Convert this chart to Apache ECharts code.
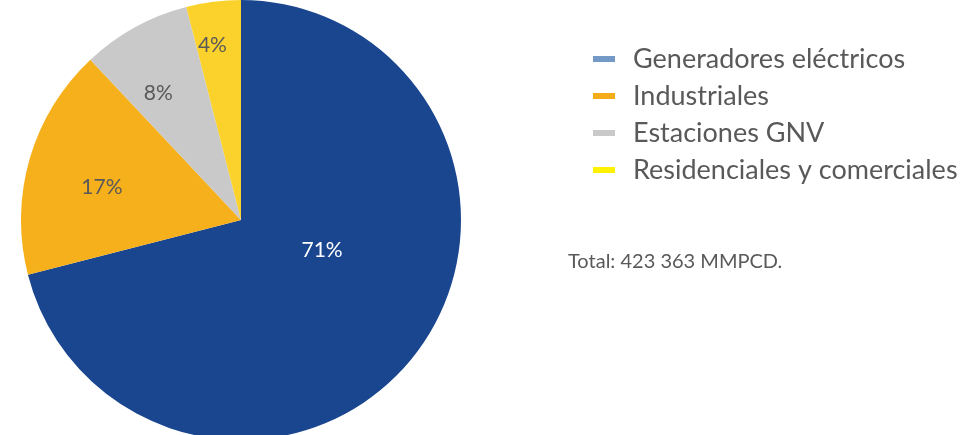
<!DOCTYPE html>
<html lang="es">
<head>
    <meta charset="UTF-8">
    <title>Consumo de gas</title>
    <script src="https://cdn.jsdelivr.net/npm/echarts@6/dist/echarts.min.js"></script>
    <style>
        html, body { margin: 0; padding: 0; background: #fff; }
        #main { width: 961px; height: 435px; }
    </style>
</head>
<body>
<div id="main"></div>
<script>
    // datos
    const categories = ['Generadores eléctricos', 'Industriales', 'Estaciones GNV', 'Residenciales y comerciales'];
    const shares = [71, 17, 8, 4];
    const totalText = 'Total: 423 363 MMPCD.';

    // estilo
    const sliceColors = ['#1a4690', '#f5b01b', '#c9c9c9', '#fbd22b'];
    const legendColors = ['#7399c6', '#f5ac1a', '#c9c9c9', '#fff200'];
    const labelColors = ['#ffffff', '#595959', '#595959', '#595959'];
    const labelDist = [92, 146, 150, 177];   // distancia de cada etiqueta al centro
    const labelShift = [[6, -28], [4, 9], [-9, 7], [-6, 4]];  // ajuste fino como en Excel
    const center = [241, 220];
    const radius = 220;

    const chart = echarts.init(document.getElementById('main'));

    const data = categories.map((c, i) => ({
        name: c,
        value: shares[i],
        itemStyle: { color: sliceColors[i] }
    }));

    // series invisibles solo para colocar cada etiqueta a su distancia
    const labelSeries = categories.map((c, k) => ({
        type: 'pie',
        silent: true,
        center: center,
        radius: [0, labelDist[k] * 2],
        startAngle: 90,
        z: 5,
        itemStyle: { color: 'rgba(0,0,0,0)' },
        labelLine: { show: false },
        emphasis: { disabled: true },
        labelLayout: { dx: labelShift[k][0], dy: labelShift[k][1] },
        data: categories.map((n, i) => ({
            name: n + '_lbl' + k,
            value: shares[i],
            label: {
                show: i === k,
                position: 'inside',
                formatter: shares[i] + '%',
                color: labelColors[i],
                fontFamily: 'Lato',
                fontSize: 21
            }
        }))
    }));

    const option = {
        animation: false,
        title: {
            text: totalText,
            left: 563,
            top: 247,
            textStyle: { fontFamily: 'Lato', fontSize: 20, fontWeight: 'normal', color: '#595959' }
        },
        legend: {
            orient: 'vertical',
            left: 588,
            top: 39,
            icon: 'rect',
            itemWidth: 22,
            itemHeight: 6,
            itemGap: 7,
            textStyle: { fontFamily: 'Lato', fontSize: 27, color: '#595959', lineHeight: 30, padding: [0, 0, 0, 13] },
            data: categories.map((c, i) => ({ name: c, itemStyle: { color: legendColors[i] } }))
        },
        series: [{
            type: 'pie',
            center: center,
            radius: radius,
            startAngle: 90,
            label: { show: false },
            labelLine: { show: false },
            emphasis: { disabled: true },
            data: data
        }].concat(labelSeries)
    };
    chart.setOption(option);
</script>
</body>
</html>
